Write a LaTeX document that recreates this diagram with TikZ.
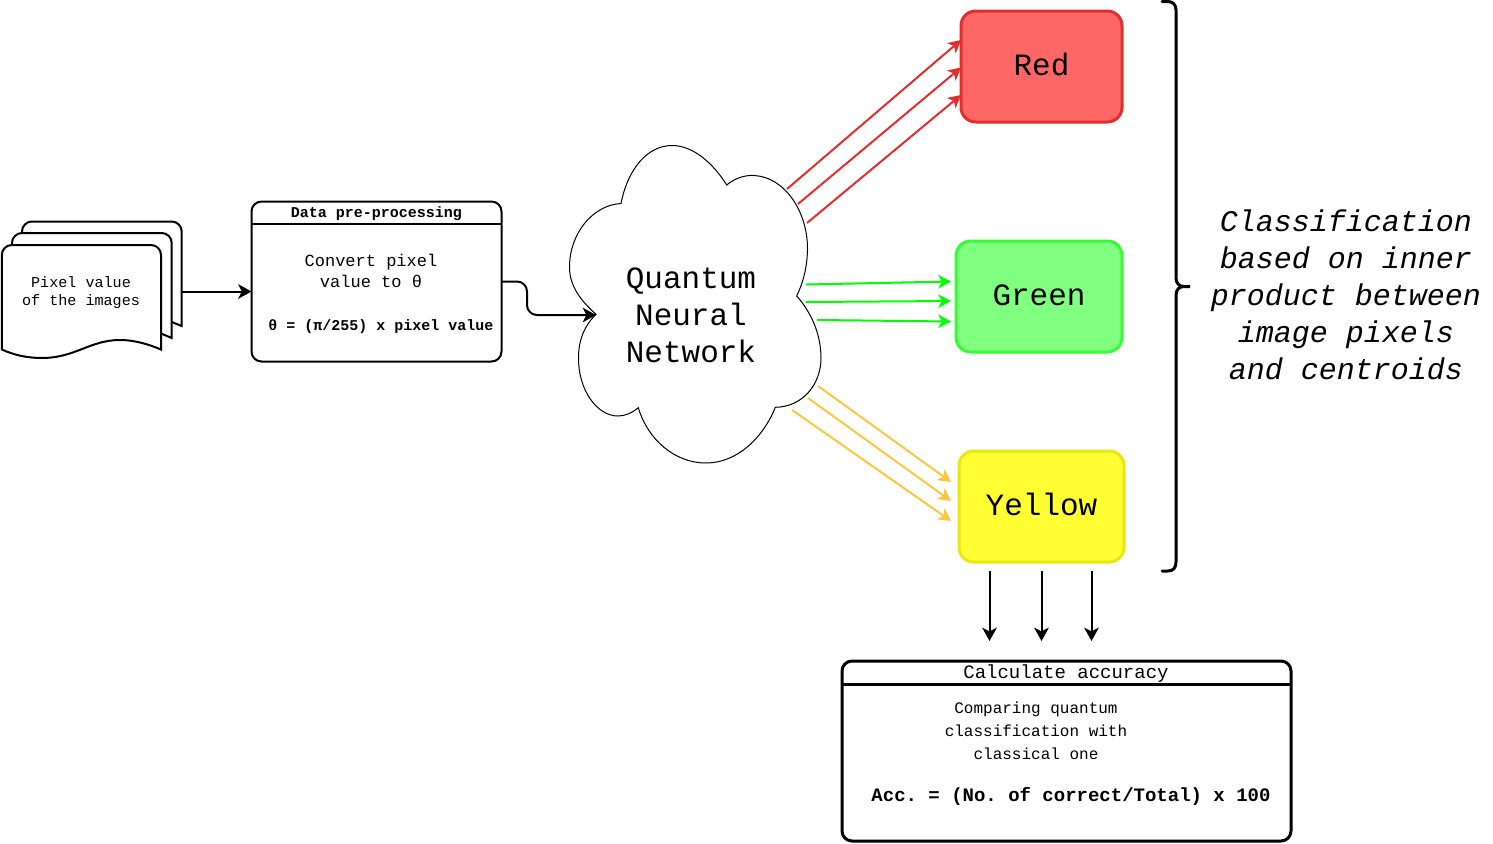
\documentclass[tikz,border=0pt]{standalone}
\usepackage{fontspec}
\setmainfont{Liberation Mono}
\usetikzlibrary{arrows.meta}
\definecolor{redfill}{HTML}{FF6666}
\definecolor{redline}{HTML}{E12E2E}
\definecolor{greenfill}{HTML}{80FF80}
\definecolor{greenline}{HTML}{33FF33}
\definecolor{greenarrow}{HTML}{00FF00}
\definecolor{yellowfill}{HTML}{FFFF33}
\definecolor{yellowline}{HTML}{E8E810}
\definecolor{orangearrow}{HTML}{FFC640}
\newdimen\fsizeA
\newdimen\fsizeB
\newcommand{\fpx}[2]{\fsizeA=#1pt \fsizeA=0.75\fsizeA \fsizeB=#2pt \fsizeB=0.75\fsizeB \edef\fsizeargs{{\the\fsizeA}{\the\fsizeB}}\expandafter\fontsize\fsizeargs\selectfont\frenchspacing}
\tikzset{
  px/.style={line width=#1*0.75pt},
  bigtip/.style={-{Stealth[length=10pt,width=11pt,inset=2.8pt]}},
  thintip/.style={-{Stealth[length=9.5pt,width=10pt,inset=2.6pt]}},
  txt/.style={inner sep=0pt,align=center},
  boxframe/.style={draw,rounded corners=7.5pt,inner sep=0pt,outer sep=0pt,anchor=north west},
  classbox/.style={draw,px=3,rounded corners=11pt,inner sep=0pt,outer sep=0pt,anchor=north west,align=center,text height=19pt,text depth=6.2pt},
  redarrow/.style={thintip,redline,px=2},
  greenar/.style={thintip,greenarrow,px=2},
  yellowar/.style={thintip,orangearrow,px=2},
  blackar/.style={bigtip,black,px=2}
}
\begin{document}
\begin{tikzpicture}[x=0.75pt,y=-0.75pt]
\useasboundingbox (0,0) rectangle (1493,843);
% stacked documents
\draw[px=2,fill=white] (22,326) -- (22,231.5) arc[start angle=180,end angle=90,radius=7.5pt] -- (171.7,221.5) arc[start angle=90,end angle=0,radius=7.5pt] -- (181.7,326) -- (171.7,322) -- (120,310) -- cycle;
\draw[px=2,fill=white] (12,338) -- (12,243) arc[start angle=180,end angle=90,radius=7.5pt] -- (161.7,233) arc[start angle=90,end angle=0,radius=7.5pt] -- (171.7,338) -- (161,333.5) -- (110,320) -- cycle;
\draw[px=2,fill=white] (1.8,349.5) -- (1.8,255) arc[start angle=180,end angle=90,radius=7.5pt] -- (151,245) arc[start angle=90,end angle=0,radius=7.5pt] -- (161,349.5)
  .. controls (148,344) and (134,340) .. (120,340)
  .. controls (90,340) and (75,358) .. (42,358)
  .. controls (27,358) and (14,355) .. (1.8,349.5) -- cycle;
\node[txt,font=\fpx{15.1}{18}] (docs) at (81,292.5) {Pixel value\\of the images};
\coordinate (docsout) at (181.7,291.5);
% data box
\node[boxframe,px=2,minimum width=250*0.75pt,minimum height=160*0.75pt] (data) at (251.5,201.5) {};
\draw[px=2] (251.5,224) -- (501.5,224);
\node[txt,font=\fpx{15}{18}\bfseries] (datatitle) at (376.5,214) {Data pre-processing};
\node[txt,font=\fpx{17}{21}] (convert) at (371,270.5) {Convert pixel\\value to θ};
\node[txt,font=\fpx{15}{18}\bfseries] (theta) at (381,327) {θ = (π/255) x pixel value};
% cloud
\draw[px=1,fill=white] (621,203.5)
  .. controls (628,168) and (648,145.5) .. (672,145.5)
  .. controls (693,145.5) and (713,163) .. (726.7,185)
  .. controls (735,178) and (745,175) .. (754,175.5)
  .. controls (785,177) and (808,212) .. (807.5,250)
  .. controls (807,268) and (803,283) .. (796.7,296)
  .. controls (811,312) and (821,334) .. (821,358)
  .. controls (821,385) and (802,407) .. (775.3,407.3)
  .. controls (763,438) and (737,463) .. (706,463)
  .. controls (675,463) and (648,440) .. (638.3,407.7)
  .. controls (632,413) and (625,416) .. (618,416)
  .. controls (597,416) and (578,390) .. (578.5,357)
  .. controls (578.7,339) and (585,325) .. (596,314.3)
  .. controls (580,300) and (569,285) .. (569.5,266)
  .. controls (570,233) and (593,205) .. (621,203.5) -- cycle;
\coordinate (cloudin) at (596,315);
\node[txt,font=\fpx{31}{37}] (qnn) at (691,315) {Quantum\\Neural\\Network};
% data to cloud
\draw[blackar,rounded corners=7.5pt] (501.5,281.5) -- (527,281.5) -- (527,315) -- (cloudin);
\draw[blackar] (docsout) -- (251.5,291.5);
% class boxes
\node[classbox,draw=redline,fill=redfill,minimum width=161*0.75pt,minimum height=111*0.75pt,font=\fpx{31}{37}] (red) at (961,11) {Red};
\node[classbox,draw=greenline,fill=greenfill,minimum width=166*0.75pt,minimum height=111*0.75pt,font=\fpx{31}{37}] (green) at (956,241) {Green};
\node[classbox,draw=yellowline,fill=yellowfill,minimum width=165*0.75pt,minimum height=111*0.75pt,font=\fpx{31}{37}] (yellow) at (959,451) {Yellow};
% red arrows
\coordinate (r1) at (787,189); \coordinate (r2) at (798,204); \coordinate (r3) at (807,223);
\coordinate (R1) at (961,40); \coordinate (R2) at (961,67.5); \coordinate (R3) at (961,95);
\draw[redarrow] (r1) -- (R1);
\draw[redarrow] (r2) -- (R2);
\draw[redarrow] (r3) -- (R3);
% green arrows
\coordinate (g1) at (806,284.5); \coordinate (g2) at (806,302); \coordinate (g3) at (817,320);
\coordinate (G1) at (951,281.5); \coordinate (G2) at (951,301); \coordinate (G3) at (951,321.5);
\draw[greenar] (g1) -- (G1);
\draw[greenar] (g2) -- (G2);
\draw[greenar] (g3) -- (G3);
% yellow arrows
\coordinate (y1) at (818,386); \coordinate (y2) at (808,398); \coordinate (y3) at (792,410);
\coordinate (Y1) at (951,482); \coordinate (Y2) at (951,501); \coordinate (Y3) at (951,521);
\draw[yellowar] (y1) -- (Y1);
\draw[yellowar] (y2) -- (Y2);
\draw[yellowar] (y3) -- (Y3);
% accuracy box
\node[boxframe,px=3,minimum width=449*0.75pt,minimum height=180*0.75pt] (acc) at (842,661) {};
\draw[px=3] (842,684.5) -- (1291,684.5);
\node[txt,font=\fpx{19}{22}] (acctitle) at (1066,674) {Calculate accuracy};
\node[txt,font=\fpx{16}{23}] (compare) at (1036,730.5) {Comparing quantum\\classification with\\classical one};
\node[txt,font=\fpx{19}{22}\bfseries] (formula) at (1071,796.5) {Acc. = (No. of correct/Total) x 100};
% down arrows
\coordinate (d1) at (989.5,571); \coordinate (d2) at (1041.5,571); \coordinate (d3) at (1091.5,571);
\coordinate (D1) at (989.5,641); \coordinate (D2) at (1041.5,641); \coordinate (D3) at (1091.5,641);
\draw[blackar] (d1) -- (D1);
\draw[blackar] (d2) -- (D2);
\draw[blackar] (d3) -- (D3);
% brace
\draw[px=3,line cap=round] (1162,1.5) -- (1168,1.5) .. controls (1173,1.5) and (1176,5) .. (1176,10)
  -- (1176,278) .. controls (1176,283) and (1179,286.5) .. (1184,286.5) -- (1190,286.5)
  -- (1184,286.5) .. controls (1179,286.5) and (1176,290) .. (1176,295)
  -- (1176,562) .. controls (1176,568) and (1173,571) .. (1168,571) -- (1162,571);
\node[txt,font=\fpx{30}{37}\itshape] (classify) at (1346,294.5) {Classification\\based on inner\\product between\\image pixels\\and centroids};
\end{tikzpicture}
\end{document}
